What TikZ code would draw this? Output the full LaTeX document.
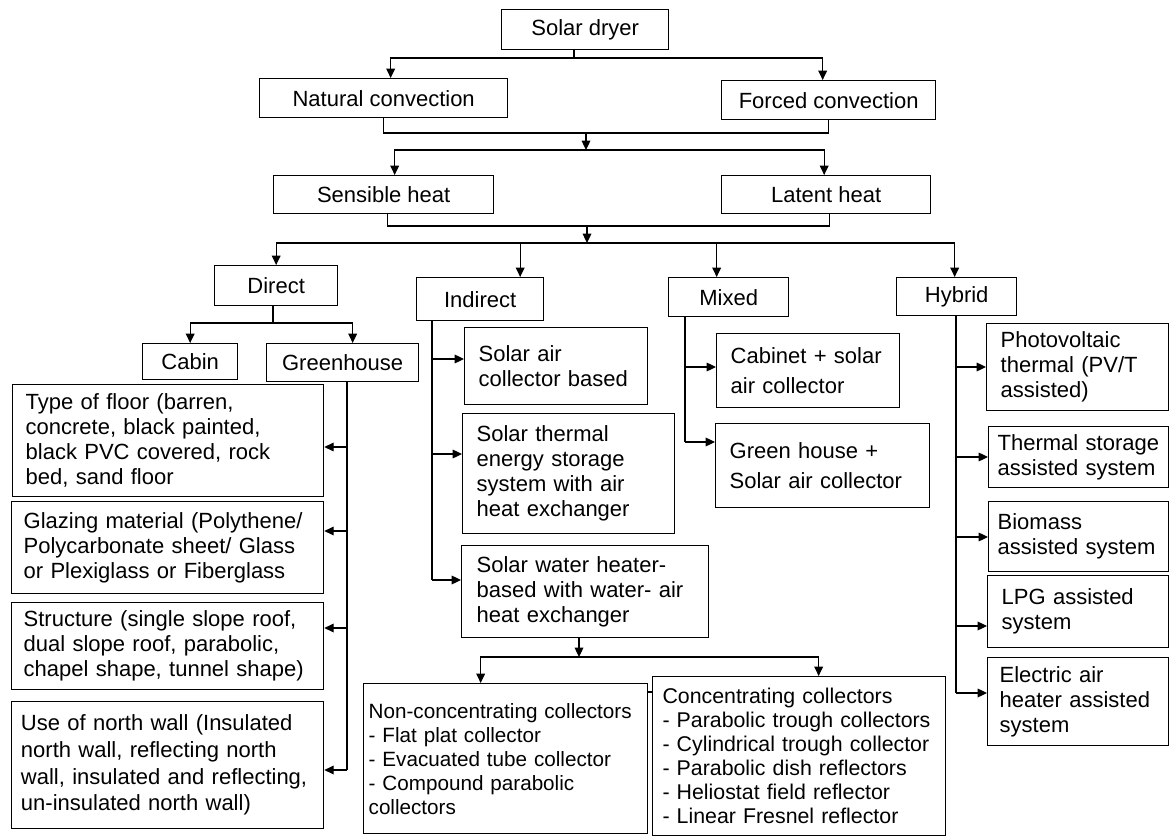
\documentclass[tikz,border=0pt]{standalone}
\usepackage{fontspec}
\setmainfont{Liberation Sans}
\usetikzlibrary{arrows.meta,calc}

\tikzset{every picture/.style={line width=0.9pt}}
\tikzset{
  box/.style={draw, line width=1pt, anchor=north west, inner sep=0pt, font=\fontsize{16.5}{18.75}\selectfont},
  txt/.style={box, align=left},
  arr/.style={-{Triangle[length=7pt,width=6.5pt]}},
}

\begin{document}
\begin{tikzpicture}[x=0.75pt,y=0.75pt,yscale=-1,xscale=1]
	\useasboundingbox (0,0) rectangle (1170,837);

	%Shape: Rectangle - top levels
	\node[box, minimum width=125.25pt, minimum height=30pt] (dryer) at (501,9) {Solar dryer};
	\node[box, minimum width=186pt, minimum height=29.25pt] (natural) at (259,78) {Natural convection};
	\node[box, minimum width=160.5pt, minimum height=29.25pt] (forced) at (721,80) {Forced convection};
	\node[box, minimum width=165pt, minimum height=28.5pt] (sensible) at (273,175) {Sensible heat};
	\node[box, minimum width=156.75pt, minimum height=28.5pt] (latent) at (721,175) {Latent heat};
	\node[box, minimum width=92.25pt, minimum height=30pt] (direct) at (214,265) {Direct};
	\node[box, minimum width=95.25pt, minimum height=32.25pt] (indirect) at (416,277) {Indirect};
	\node[box, minimum width=90pt, minimum height=29.25pt] (mixed) at (668,277) {Mixed};
	\node[box, minimum width=90pt, minimum height=28.5pt] (hybrid) at (896,277) {Hybrid};
	\node[box, minimum width=71.25pt, minimum height=27pt] (cabin) at (142,343) {Cabin};
	\node[box, minimum width=114pt, minimum height=28.5pt] (greenhouse) at (266,343) {Greenhouse};

	%Shape: Rectangle - greenhouse options
	\node[txt, minimum width=233.25pt, minimum height=84pt, text width=213.75pt] (floor) at (12,384) {Type of floor (barren,\\concrete, black painted,\\black PVC covered, rock\\bed, sand floor};
	\node[txt, minimum width=234pt, minimum height=69pt, text width=216pt] (glazing) at (11,501) {Glazing material (Polythene/\\Polycarbonate sheet/ Glass\\or Plexiglass or Fiberglass};
	\node[txt, minimum width=234pt, minimum height=65.25pt, text width=216pt] (structure) at (11,602) {Structure (single slope roof,\\dual slope roof, parabolic,\\chapel shape, tunnel shape)};
	\node[txt, minimum width=234pt, minimum height=95.25pt, text width=220pt, font=\fontsize{16.5}{20}\selectfont] (northwall) at (11,701) {Use of north wall (Insulated\\north wall, reflecting north\\wall, insulated and reflecting,\\un-insulated north wall)};

	%Shape: Rectangle - indirect options
	\node[txt, minimum width=137.25pt, minimum height=57.75pt, text width=116.25pt] (airbased) at (464,327) {Solar air\\collector based};
	\node[txt, minimum width=159pt, minimum height=90pt, text width=138pt] (tes) at (462,413) {Solar thermal\\energy storage\\system with air\\heat exchanger};
	\node[txt, minimum width=185.25pt, minimum height=69pt, text width=162.75pt] (swh) at (461,545) {Solar water heater-\\based with water- air\\heat exchanger};

	%Shape: Rectangle - mixed options
	\node[txt, minimum width=137.25pt, minimum height=55.5pt, text width=116.25pt, font=\fontsize{16.5}{22}\selectfont] (cabinet) at (716,333) {Cabinet + solar\\air collector};
	\node[txt, minimum width=160.5pt, minimum height=63pt, text width=139.5pt, font=\fontsize{16.5}{22}\selectfont] (greenmix) at (715,423) {Green house +\\Solar air collector};

	%Shape: Rectangle - hybrid options
	\node[txt, minimum width=136.5pt, minimum height=65.25pt, text width=115.5pt] (pvt) at (986,323) {Photovoltaic\\thermal (PV/T\\assisted)};
	\node[txt, minimum width=135pt, minimum height=45.75pt, text width=121.5pt] (storage) at (988,426) {Thermal storage\\assisted system};
	\node[txt, minimum width=135pt, minimum height=52.5pt, text width=121.5pt] (biomass) at (988,501) {Biomass\\assisted system};
	\node[txt, minimum width=135.75pt, minimum height=54pt, text width=114.75pt] (lpg) at (987,575) {LPG assisted\\system};
	\node[txt, minimum width=135.75pt, minimum height=66pt, text width=117.75pt] (electric) at (987,657) {Electric air\\heater assisted\\system};

	%Shape: Rectangle - collectors
	\node[txt, minimum width=213pt, minimum height=112.5pt, text width=205.5pt, font=\fontsize{15.5}{18}\selectfont] (noncon) at (363,683) {Non-concentrating collectors\\- Flat plat collector\\- Evacuated tube collector\\- Compound parabolic\\collectors};
	\node[txt, minimum width=219.75pt, minimum height=119.25pt, text width=205pt, font=\fontsize{16}{18}\selectfont] (conc) at (652,676) {Concentrating collectors\\- Parabolic trough collectors\\- Cylindrical trough collector\\- Parabolic dish reflectors\\- Heliostat field reflector\\- Linear Fresnel reflector};

	%Straight Lines - solar dryer to convection
	\coordinate (j1) at (574,58);
	\draw (dryer.south -| j1) -- (j1);
	\draw[arr] (j1) -| ($(natural.north)+(7,0)$);
	\draw[arr] (j1) -| ($(forced.north)+(-6,0)$);

	%Straight Lines - convection to heat
	\coordinate (j2) at (586,133);
	\coordinate (j3) at (586,150);
	\draw (natural.south) |- (j2) -| (forced.south);
	\draw[arr] (j2) -- (j3);
	\draw[arr] (j3) -| ($(sensible.north)+(11,0)$);
	\draw[arr] (j3) -| ($(latent.north)+(-2,0)$);

	%Straight Lines - heat to dryer types
	\coordinate (j4) at (587,226);
	\coordinate (j5) at (587,243);
	\draw ($(sensible.south)+(4,0)$) |- (j4) -| ($(latent.south)+(3,0)$);
	\draw[arr] (j4) -- (j5);
	\draw[arr] (j5) -| (direct.north);
	\draw[arr] (j5) -| ($(indirect.north)+(40,0)$);
	\draw[arr] (j5) -| ($(mixed.north)+(-12,0)$);
	\draw[arr] (j5) -| ($(hybrid.north)+(-2,0)$);

	%Straight Lines - direct
	\coordinate (j6) at (273,323);
	\draw (direct.south -| j6) -- (j6);
	\draw[arr] (j6) -| (cabin.north);
	\draw[arr] (j6) -| ($(greenhouse.north)+(10,0)$);

	%Straight Lines - greenhouse
	\coordinate (g1) at (347,447);
	\coordinate (g2) at (347,531);
	\coordinate (g3) at (347,628);
	\coordinate (g4) at (347,770);
	\draw (greenhouse.south -| g4) -- (g4);
	\draw[arr] (g1) -- (g1 -| floor.east);
	\draw[arr] (g2) -- (g2 -| glazing.east);
	\draw[arr] (g3) -- (g3 -| structure.east);
	\draw[arr] (g4) -- (g4 -| northwall.east);

	%Straight Lines - indirect
	\coordinate (i1) at (432,359);
	\coordinate (i2) at (432,454);
	\coordinate (i3) at (432,580);
	\draw (indirect.south -| i3) -- (i3);
	\draw[arr] (i1) -- (i1 -| airbased.west);
	\draw[arr] (i2) -- (i2 -| tes.west);
	\draw[arr] (i3) -- (i3 -| swh.west);

	%Straight Lines - mixed
	\coordinate (m1) at (685,367);
	\coordinate (m2) at (685,442);
	\draw (mixed.south -| m2) -- (m2);
	\draw[arr] (m1) -- (m1 -| cabinet.west);
	\draw[arr] (m2) -- (m2 -| greenmix.west);

	%Straight Lines - hybrid
	\coordinate (h1) at (956,367);
	\coordinate (h2) at (956,457);
	\coordinate (h3) at (956,537);
	\coordinate (h4) at (956,626);
	\coordinate (h5) at (956,693);
	\draw (hybrid.south -| h5) -- (h5);
	\draw[arr] (h1) -- (h1 -| pvt.west);
	\draw[arr] (h2) -- (h2 -| storage.west);
	\draw[arr] (h3) -- (h3 -| biomass.west);
	\draw[arr] (h4) -- (h4 -| lpg.west);
	\draw[arr] (h5) -- (h5 -| electric.west);

	%Straight Lines - water heater to collectors
	\coordinate (j7) at (579,657);
	\draw[arr] (swh.south -| j7) -- (j7);
	\draw[arr] (j7) -| ($(noncon.north)+(-25,0)$);
	\draw[arr] (j7) -| ($(conc.north)+(19.5,0)$);
	\coordinate (tk) at (650,692);
	\draw (noncon.east |- tk) -- (conc.west |- tk);

\end{tikzpicture}
\end{document}
